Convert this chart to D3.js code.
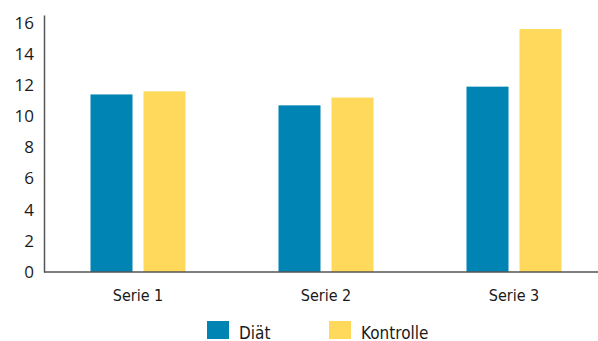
<!DOCTYPE html>
<html>
<head>
<meta charset="utf-8">
<script src="https://cdn.jsdelivr.net/npm/d3@7"></script>
<style>
  body { margin: 0; background: #fff; }
  text { fill: #1a1a1a; }
  .narrow { font-family: "Liberation Sans Narrow", "DejaVu Sans Condensed", "Open Sans", sans-serif; }
</style>
</head>
<body>
<svg id="chart"></svg>
<script>
/* chart data */
var categories = ['Serie 1', 'Serie 2', 'Serie 3'];
var seriesNames = ['Diät', 'Kontrolle'];
var diaet = [11.4, 10.7, 11.9];
var kontrolle = [11.6, 11.2, 15.6];
var yTicks = [0, 2, 4, 6, 8, 10, 12, 14, 16];
var colors = ['#0084b4', '#fed95c'];

var width = 598;
var height = 341;
var margin = {left: 44, top: 15, bottom: 69};

var svg = d3.select('#chart')
    .attr('width', width)
    .attr('height', height);

var x = d3.scaleBand()
    .domain(categories)
    .range([margin.left, margin.left + 3 * 188]);

/* two bars per group, 42px wide with an 11px gap */
var xInner = d3.scaleBand()
    .domain(seriesNames)
    .range([0, 95])
    .paddingInner(11 / 53);

var y = d3.scaleLinear()
    .domain([0, 16.5])
    .range([height - margin.bottom, margin.top]);

var rows = categories.map(function(c, i){
    return {cat: c, values: [diaet[i], kontrolle[i]]};
});

/* bars */
var groups = svg.selectAll('g.group')
    .data(rows)
    .enter()
    .append('g')
    .attr('class', 'group')
    .attr('transform', function(d){
        return 'translate(' + (x(d.cat) + (x.bandwidth() - 95) / 2) + ',0)';
    });

groups.selectAll('rect')
    .data(function(d){
        return d.values.map(function(v, j){ return {name: seriesNames[j], value: v, j: j}; });
    })
    .enter()
    .append('rect')
    .attr('x', function(d){ return xInner(d.name); })
    .attr('width', xInner.bandwidth())
    .attr('y', function(d){ return y(d.value); })
    .attr('height', function(d){ return y(0) - y(d.value); })
    .attr('fill', function(d){ return colors[d.j]; });

/* y axis */
var yAxis = svg.append('g')
    .attr('transform', 'translate(' + margin.left + ',0)')
    .call(d3.axisLeft(y).tickValues(yTicks).tickSize(0).tickPadding(10));
yAxis.select('.domain').attr('stroke', '#555').attr('stroke-width', 1.5);
yAxis.selectAll('text')
    .attr('font-family', '"Open Sans", sans-serif')
    .attr('font-size', 17)
    .attr('fill', '#1a1a1a');

/* x axis */
var xAxis = svg.append('g')
    .attr('transform', 'translate(0,' + y(0) + ')')
    .call(d3.axisBottom(x).tickSize(0));
xAxis.select('.domain').remove();
xAxis.selectAll('text')
    .attr('class', 'narrow')
    .attr('font-family', null)
    .attr('font-size', 16)
    .attr('dy', null)
    .attr('y', 29)
    .attr('fill', '#1a1a1a');

svg.append('line')
    .attr('x1', margin.left)
    .attr('x2', width)
    .attr('y1', y(0))
    .attr('y2', y(0))
    .attr('stroke', '#555')
    .attr('stroke-width', 1.7);

/* legend */
var legend = svg.selectAll('g.legend')
    .data(seriesNames)
    .enter()
    .append('g')
    .attr('class', 'legend')
    .attr('transform', function(d, i){ return 'translate(' + (207 + i * 122) + ',321)'; });

legend.append('rect')
    .attr('width', 22)
    .attr('height', 18)
    .attr('fill', function(d, i){ return colors[i]; });

legend.append('text')
    .attr('class', 'narrow')
    .attr('x', 32)
    .attr('y', 17.5)
    .attr('font-size', 17)
    .text(function(d){ return d; });
</script>
</body>
</html>
